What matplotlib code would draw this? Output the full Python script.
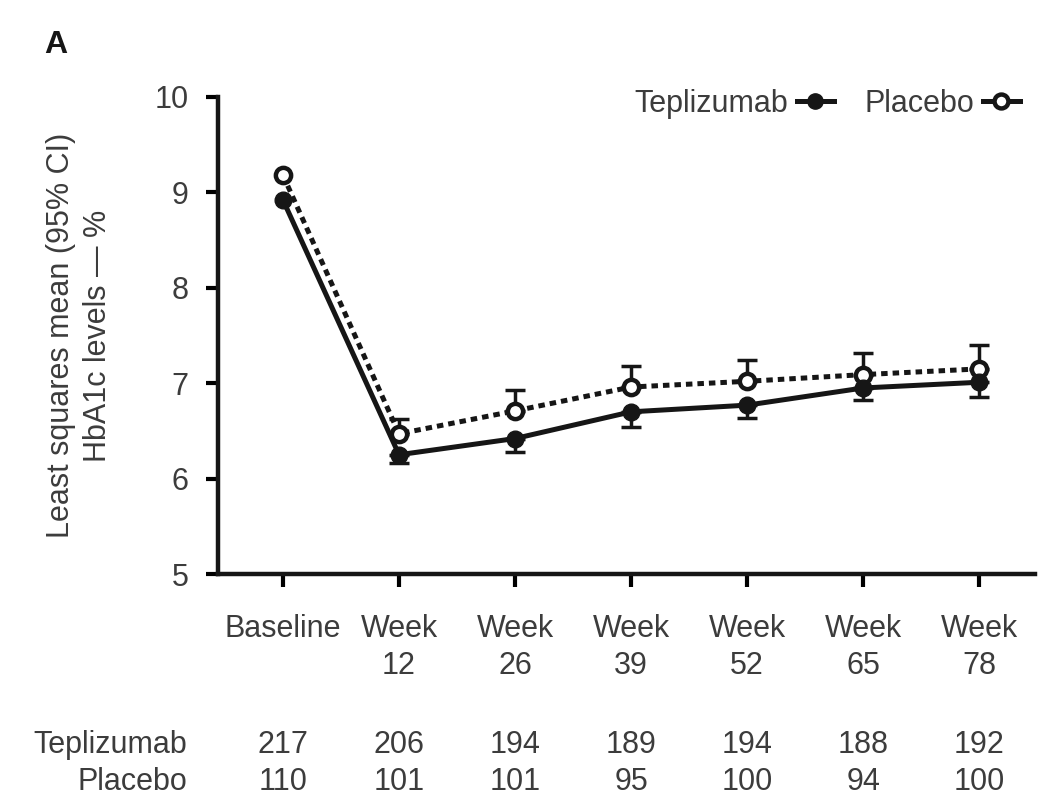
import numpy as np
import matplotlib
matplotlib.use('Agg')
import matplotlib.pyplot as plt
from matplotlib.lines import Line2D
import matplotlib.transforms as mtrans

plt.rcParams['font.family'] = ['Liberation Sans', 'DejaVu Sans']

# data
timepoints = ['Baseline', 'Week\n12', 'Week\n26', 'Week\n39', 'Week\n52', 'Week\n65', 'Week\n78']
tep_mean = [8.92, 6.25, 6.42, 6.70, 6.77, 6.95, 7.01]
tep_low = [8.92, 6.16, 6.28, 6.54, 6.63, 6.82, 6.86]
pla_mean = [9.18, 6.47, 6.71, 6.96, 7.02, 7.09, 7.15]
pla_high = [9.18, 6.62, 6.93, 7.18, 7.24, 7.32, 7.40]
n_tep = [217, 206, 194, 189, 194, 188, 192]
n_pla = [110, 101, 101, 95, 100, 94, 100]

txt = '#3c3c3c'
ink = '#161616'
fs = 22

fig = plt.figure(figsize=(10.4, 8.08), dpi=100)
ax = fig.add_axes([218/1040, 1-574/808, (1035-218)/1040, (574-97)/808])

x = np.arange(len(timepoints))
tep_mean = np.array(tep_mean); pla_mean = np.array(pla_mean)
tep_low = np.array(tep_low); pla_high = np.array(pla_high)
e = x[1:]  # baseline CI too small to show

# error bars (one-sided, as drawn in the original)
ax.errorbar(x[e], pla_mean[e], yerr=[np.zeros(len(e)), pla_high[e] - pla_mean[e]],
            fmt='none', ecolor=ink, capsize=7, capthick=2.5, elinewidth=2.5, zorder=2)
ax.errorbar(x[e], tep_mean[e], yerr=[tep_mean[e] - tep_low[e], np.zeros(len(e))],
            fmt='none', ecolor=ink, capsize=7, capthick=2.5, elinewidth=2.5, zorder=2)

ax.plot(x, pla_mean, color=ink, lw=3.6, ls=(0, (1.3, 1.0)),
        marker='o', ms=11, mfc='white', mec=ink, mew=3.2, zorder=3)
ax.plot(x, tep_mean, color=ink, lw=3.6, ls='-',
        marker='o', ms=12, mfc=ink, mec=ink, zorder=4)

ax.set_xlim(-0.56, 6.48)
ax.set_ylim(5, 10)
ax.set_yticks([5, 6, 7, 8, 9, 10])
ax.set_xticks(x)
ax.set_xticklabels(timepoints, fontsize=fs, color=txt, linespacing=1.3)
ax.tick_params(axis='y', labelsize=fs, labelcolor=txt, width=3, length=9, pad=12)
ax.tick_params(axis='x', width=3, length=9, pad=20)
for s in ['top', 'right']:
    ax.spines[s].set_visible(False)
for s in ['left', 'bottom']:
    ax.spines[s].set_linewidth(3.2)
    ax.spines[s].set_color(ink)

ax.set_ylabel('Least squares mean (95% CI)\nHbA1c levels \u2014 %', fontsize=fs,
              color=txt, labelpad=30, linespacing=1.3)

handles = [Line2D([], [], color=ink, lw=3.6, marker='o', ms=11, mfc=ink, mec=ink),
           Line2D([], [], color=ink, lw=3.6, marker='o', ms=10, mfc='white', mec=ink, mew=3.2)]
leg = ax.legend(handles, ['Teplizumab', 'Placebo'], ncol=2, markerfirst=False,
                frameon=False, fontsize=fs, handlelength=1.2, columnspacing=1.0,
                handletextpad=0.3, loc='upper right', bbox_to_anchor=(1.015, 1.075),
                labelcolor=txt)

fig.text(44/1040, 1-45/808, 'A', fontsize=23, fontweight='bold', color=ink,
         va='center', ha='left')

# numbers at risk
trans = mtrans.blended_transform_factory(ax.transData, fig.transFigure)
for i in x:
    ax.text(i, 1-745/808, str(n_tep[i]), transform=trans, ha='center', va='center',
            fontsize=fs, color=txt)
    ax.text(i, 1-782/808, str(n_pla[i]), transform=trans, ha='center', va='center',
            fontsize=fs, color=txt)
fig.text(187/1040, 1-745/808, 'Teplizumab', ha='right', va='center', fontsize=fs, color=txt)
fig.text(187/1040, 1-782/808, 'Placebo', ha='right', va='center', fontsize=fs, color=txt)

fig.savefig('out.png', dpi=100, facecolor='white')
